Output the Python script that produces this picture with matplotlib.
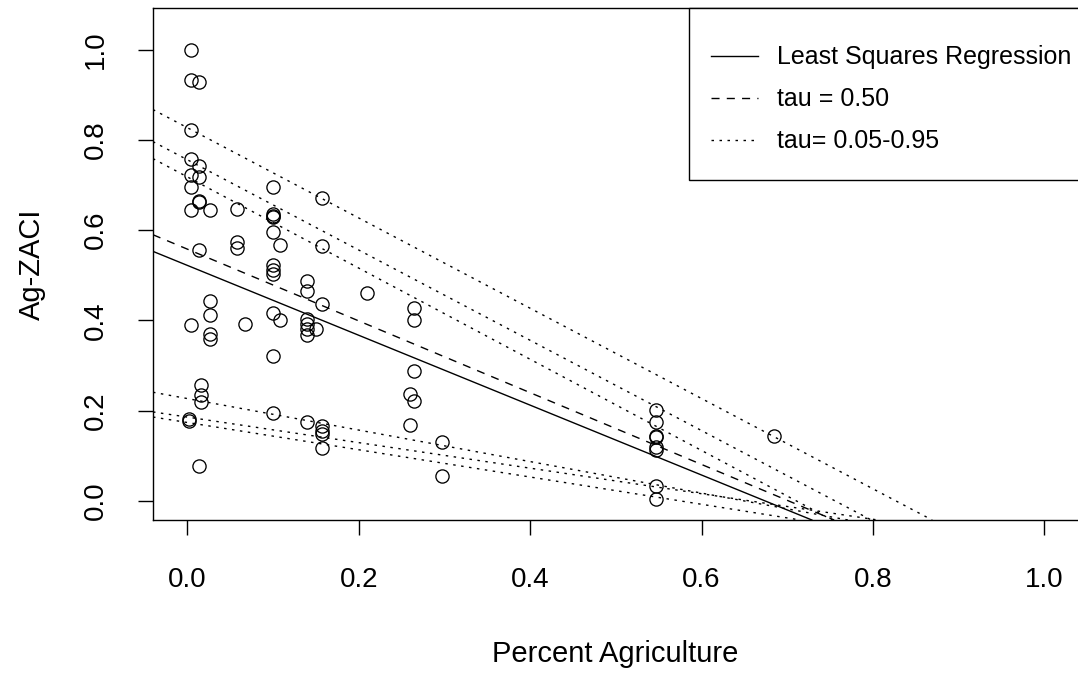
import matplotlib
matplotlib.use('Agg')
import matplotlib.pyplot as plt
from matplotlib.patches import Rectangle

plt.rcParams['font.family'] = ['Liberation Sans', 'DejaVu Sans']

# points
pct_ag = [0.004, 0.004, 0.004, 0.004, 0.004, 0.004, 0.004, 0.004,
          0.002, 0.002,
          0.014, 0.014, 0.014, 0.014, 0.014, 0.014, 0.014,
          0.016, 0.016, 0.016,
          0.026, 0.026, 0.026, 0.026, 0.026,
          0.058, 0.058, 0.058,
          0.067,
          0.100, 0.100, 0.100, 0.100, 0.100, 0.100, 0.100, 0.100, 0.100, 0.100, 0.100,
          0.108, 0.108,
          0.140, 0.140, 0.140, 0.140, 0.140, 0.140, 0.140,
          0.150,
          0.157, 0.157, 0.157, 0.157, 0.157, 0.157, 0.157,
          0.210,
          0.264, 0.264, 0.264, 0.264,
          0.260, 0.260,
          0.297, 0.297,
          0.547, 0.547, 0.547, 0.547, 0.547, 0.547, 0.547, 0.547,
          0.685]
ag_zaci = [1.000, 0.932, 0.821, 0.758, 0.721, 0.696, 0.644, 0.389,
           0.182, 0.177,
           0.927, 0.743, 0.718, 0.662, 0.665, 0.555, 0.077,
           0.258, 0.234, 0.219,
           0.644, 0.444, 0.411, 0.370, 0.359,
           0.646, 0.574, 0.560,
           0.393,
           0.696, 0.636, 0.629, 0.632, 0.596, 0.522, 0.512, 0.502, 0.416, 0.321, 0.194,
           0.568, 0.402,
           0.488, 0.466, 0.404, 0.391, 0.381, 0.368, 0.176,
           0.381,
           0.671, 0.565, 0.437, 0.167, 0.156, 0.149, 0.117,
           0.461,
           0.427, 0.401, 0.287, 0.222,
           0.237, 0.168,
           0.130, 0.056,
           0.202, 0.174, 0.145, 0.141, 0.119, 0.112, 0.034, 0.004,
           0.145]

# fitted lines (intercept, slope)
ls_coef = [0.522, -0.774]
med_coef = [0.558, -0.795]
tau_levels = [0.05, 0.10, 0.25, 0.75, 0.90, 0.95]
tau_intercepts = [0.174, 0.186, 0.227, 0.718, 0.756, 0.827]
tau_slopes = [-0.302, -0.283, -0.349, -1.010, -1.000, -1.000]

legend_labels = ['Least Squares Regression', 'tau = 0.50', 'tau= 0.05-0.95']

fig = plt.figure(figsize=(10.78, 6.77), dpi=100)
ax = fig.add_axes([0.1419, 0.2319, 0.8588, 0.7563])

ax.plot(pct_ag, ag_zaci, 'o', mfc='none', mec='black', ms=9.5, mew=0.95, ls='none')

dashed = (0, (5.8, 5.2))
dotted = (0, (1.8, 3.96))
l1 = ax.axline((0, ls_coef[0]), slope=ls_coef[1], color='black', lw=1.0, ls='-')
l2 = ax.axline((0, med_coef[0]), slope=med_coef[1], color='black', lw=1.0, ls=dashed)
for a, b in zip(tau_intercepts, tau_slopes):
    l3 = ax.axline((0, a), slope=b, color='black', lw=1.0, ls=dotted)

ax.set_xlim(-0.04, 1.04)
ax.set_ylim(-0.042, 1.092)
ax.set_xticks([0.0, 0.2, 0.4, 0.6, 0.8, 1.0])
ax.set_yticks([0.0, 0.2, 0.4, 0.6, 0.8, 1.0])
ax.set_xticklabels(['0.0', '0.2', '0.4', '0.6', '0.8', '1.0'])
ax.set_yticklabels(['0.0', '0.2', '0.4', '0.6', '0.8', '1.0'], rotation=90, va='center')
ax.tick_params(length=11, width=1.0, labelsize=20, color='black')
ax.tick_params(axis='x', pad=23)
ax.tick_params(axis='y', pad=20.5)

for s in ['left', 'bottom', 'top']:
    ax.spines[s].set_linewidth(1.0)
    ax.spines[s].set_color('black')
ax.spines['right'].set_visible(False)

ax.set_xlabel('Percent Agriculture', fontsize=21)
ax.set_ylabel('Ag-ZACI', fontsize=21)
ax.xaxis.set_label_coords(0.499, -0.262)
ax.xaxis.label.set_va('center')
ax.yaxis.set_label_coords(-0.131, 0.5)
ax.yaxis.label.set_va('center')

# legend box, flush with the top right corner like R's legend("topright")
box = Rectangle((0.579, 0.664), 0.431, 0.336, transform=ax.transAxes,
                facecolor='white', edgecolor='black', lw=1.0, clip_on=False, zorder=4)
ax.add_patch(box)
leg = ax.legend([l1, l2, l3], legend_labels, loc='upper left',
                bbox_to_anchor=(0.6027, 0.927), borderaxespad=0, borderpad=0,
                fontsize=18, frameon=False, handlelength=1.88,
                handletextpad=0.76, labelspacing=0.72)
leg.set_zorder(5)

plt.savefig('out.png', dpi=100)
